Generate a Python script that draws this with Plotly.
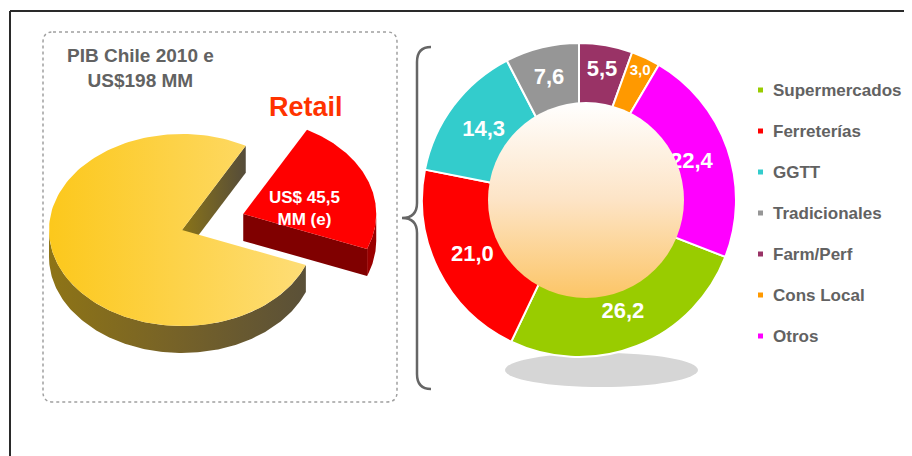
import base64
import numpy as np
import plotly.graph_objects as go

# ---------------- data ----------------
PIB_TOTAL = 198.0          # PIB Chile 2010 (US$ MM)
RETAIL = 45.5              # Retail (US$ MM)
PIB_YEAR = 2010
labels = ['Supermercados', 'Ferreterías', 'GGTT', 'Tradicionales', 'Farm/Perf', 'Cons Local', 'Otros']
values = [26.2, 21.0, 14.3, 7.6, 5.5, 3.0, 22.4]

# ---------------- styles ----------------
colors = ['#99cc00', '#ff0000', '#33cccc', '#969696', '#993366', '#ff9900', '#ff00ff']
W, H = 912, 456
OFF = 8            # page body margin: axis units below equal window pixels
FONT = 'Liberation Sans, Arial, sans-serif'
GREY_TXT = '#626262'


def fmt(v):
    return f'{v:.1f}'.replace('.', ',')


fig = go.Figure()

# ---------------- 3-D pie (left) ----------------
cx, cy, rx, ry, depth = 182, 230, 133, 96, 27
explode = 0.49
mid = 20.0
span = RETAIL / PIB_TOTAL * 360.0
t_lo, t_hi = mid - span / 2, mid + span / 2


def ell(x0, y0, deg, dy=0.0):
    t = np.radians(deg)
    return float(x0 + rx * np.cos(t)), float(y0 - ry * np.sin(t) + dy)


def arc(x0, y0, a0, a1, dy=0.0, n=160):
    t = np.radians(np.linspace(a0, a1, n))
    return list(x0 + rx * np.cos(t)), list(y0 - ry * np.sin(t) + dy)


def poly(xs, ys, c0, c1=None):
    kw = dict(x=xs + [xs[0]], y=ys + [ys[0]], mode='lines', fill='toself',
              line=dict(width=0), hoverinfo='skip', showlegend=False)
    if c1 is None:
        kw['fillcolor'] = c0
    else:
        cs = c0 if isinstance(c0, list) else [[0, c0], [1, c1]]
        kw['fillgradient'] = dict(type='horizontal', colorscale=cs)
    fig.add_trace(go.Scatter(**kw))


# yellow body: outer wall
x1, y1 = arc(cx, cy, 180, 360 + t_lo)
x2, y2 = arc(cx, cy, 360 + t_lo, 180, depth)
poly(x1 + x2, y1 + y2, [[0, '#8e7416'], [0.5, '#766228'], [1, '#5a5038']], True)
# yellow body: cut face
px, py = ell(cx, cy, t_hi)
poly([cx, px, px, cx], [cy, py, py + depth, cy + depth], '#8a7418', '#554c3a')
# yellow body: top face
xa, ya = arc(cx, cy, t_hi, 360 + t_lo)
poly([cx] + xa, [cy] + ya, '#fcc81c', '#fedd76')

# retail slice (exploded)
ax = cx + explode * rx * np.cos(np.radians(mid))
ay = cy - explode * ry * np.sin(np.radians(mid))
x1, y1 = arc(ax, ay, t_lo, 0)
x2, y2 = arc(ax, ay, 0, t_lo, depth)
poly(x1 + x2, y1 + y2, '#9a0000')
qx, qy = ell(ax, ay, t_lo)
poly([ax, qx, qx, ax], [ay, qy, qy + depth, ay + depth], '#800000')
xa, ya = arc(ax, ay, t_lo, t_hi)
poly([ax] + xa, [ay] + ya, '#ff0000')

# ---------------- donut (right) ----------------
dcx, dcy, dr = 579, 200, 157
start = sum(values[:4]) / sum(values) * 360.0
fig.add_trace(go.Pie(
    labels=labels, values=values, sort=False, direction='clockwise',
    rotation=360.0 - start, hole=0.52,
    marker=dict(colors=colors, line=dict(color='white', width=2)),
    texttemplate='%{value:.1f}', textposition='inside',
    insidetextorientation='horizontal',
    textfont=dict(color='white', size=22, family=FONT, weight='bold'),
    domain=dict(x=[(dcx - OFF - dr) / W, (dcx - OFF + dr) / W],
                y=[(H - (dcy - OFF) - dr) / H, (H - (dcy - OFF) + dr) / H]),
    showlegend=False, hoverinfo='label+value'))

# gradient centre disc
svg = ('<svg xmlns="http://www.w3.org/2000/svg" width="200" height="200" viewBox="0 0 200 200">'
       '<defs><linearGradient id="g" x1="0" y1="0" x2="0" y2="1">'
       '<stop offset="0" stop-color="#ffffff"/><stop offset="0.5" stop-color="#fde4c6"/>'
       '<stop offset="1" stop-color="#fcc566"/></linearGradient></defs>'
       '<circle cx="100" cy="100" r="100" fill="url(#g)"/></svg>')
src = 'data:image/svg+xml;base64,' + base64.b64encode(svg.encode()).decode()
images = [dict(source=src, xref='x', yref='y', x=586, y=200, sizex=196, sizey=196,
               xanchor='center', yanchor='middle', sizing='stretch', layer='above')]

# ---------------- shapes ----------------
shapes = [
    dict(type='line', x0=10, y0=11, x1=W + OFF, y1=11, xref='x', yref='y', line=dict(color='#2a2a2a', width=2)),
    dict(type='line', x0=10, y0=11, x1=10, y1=H + OFF, xref='x', yref='y', line=dict(color='#2a2a2a', width=2)),
    dict(type='path', xref='x', yref='y', layer='below',
         path='M 53 32 L 387 32 Q 397 32 397 42 L 397 392 Q 397 402 387 402 L 53 402 '
              'Q 43 402 43 392 L 43 42 Q 43 32 53 32 Z',
         line=dict(color='#a0a0a0', width=1.5, dash='dot')),
    dict(type='path', xref='x', yref='y',
         path='M 431 47 Q 417 47 417 62 L 417 203 Q 417 218 402 218 Q 417 218 417 233 '
              'L 417 374 Q 417 389 431 389',
         line=dict(color='#666666', width=2.5)),
    dict(type='circle', xref='x', yref='y', layer='below', x0=505, y0=353, x1=698, y1=387,
         fillcolor='#d6d6d6', line=dict(width=0)),
]

annotations = [
    dict(x=140, y=68, xref='x', yref='y', showarrow=False,
         text=f'PIB Chile {PIB_YEAR} e<br>US${PIB_TOTAL:.0f} MM',
         font=dict(family=FONT, size=19, color=GREY_TXT, weight='bold')),
    dict(x=306, y=107, xref='x', yref='y', showarrow=False, text='Retail',
         font=dict(family=FONT, size=27, color='#ff3300', weight='bold')),
    dict(x=304, y=208, xref='x', yref='y', showarrow=False,
         text=f'US$ {fmt(RETAIL)}<br>MM (e)',
         font=dict(family=FONT, size=17, color='white', weight='bold')),
]

# manual legend
for i, (lab, col) in enumerate(zip(labels, colors)):
    yy = 90 + 41 * i
    shapes.append(dict(type='rect', xref='x', yref='y', x0=758, x1=763, y0=yy - 2.5, y1=yy + 2.5,
                       fillcolor=col, line=dict(width=0)))
    annotations.append(dict(x=771, y=yy, xref='x', yref='y', xanchor='left', yanchor='middle',
                            showarrow=False, text=lab,
                            font=dict(family=FONT, size=17, color=GREY_TXT, weight='bold')))

fig.update_layout(
    width=W, height=H, margin=dict(l=0, r=0, t=0, b=0),
    paper_bgcolor='white', plot_bgcolor='white',
    separators=',.', showlegend=False,
    xaxis=dict(range=[OFF, W + OFF], visible=False, fixedrange=True, domain=[0, 1]),
    yaxis=dict(range=[H + OFF, OFF], visible=False, fixedrange=True, domain=[0, 1]),
    shapes=shapes, annotations=annotations, images=images,
    font=dict(family=FONT),
)

fig.write_html('out.html')
